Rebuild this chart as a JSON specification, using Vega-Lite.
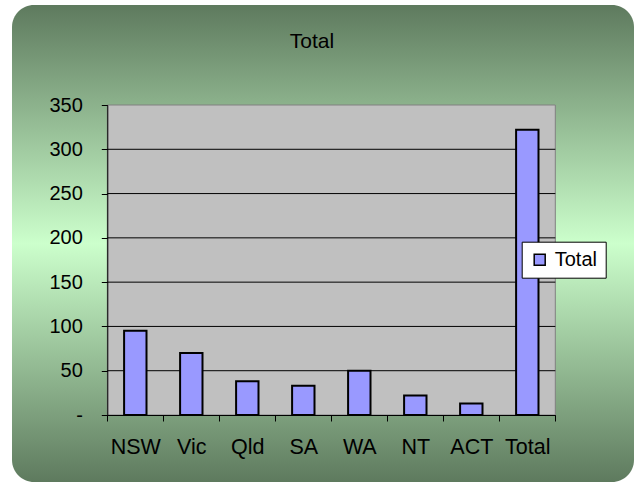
{
  "$schema": "https://vega.github.io/schema/vega-lite/v6.json",
  "width": 622,
  "height": 477,
  "autosize": {"type": "none"},
  "padding": {"left": 12, "top": 5, "right": 3, "bottom": 0},
  "background": "white",
  "view": {
    "fill": {"gradient": "linear", "x1": 0, "y1": 0, "x2": 0, "y2": 1,
      "stops": [
        {"offset": 0, "color": "#5e7a5e"},
        {"offset": 0.5, "color": "#ccffcc"},
        {"offset": 1, "color": "#5e7a5e"}
      ]},
    "stroke": null,
    "cornerRadius": 22
  },
  "title": {
    "text": "Total",
    "fontSize": 21,
    "font": "Liberation Sans",
    "fontWeight": "normal",
    "color": "black",
    "anchor": "middle",
    "frame": "group",
    "offset": -43,
    "baseline": "alphabetic",
    "dx": -11,
    "dy": 21
  },
  "config": {"font": "Liberation Sans"},
  "resolve": {"scale": {"x": "independent"}},
  "layer": [
    {
      "data": {"values": [{"plot": "area"}]},
      "mark": {"type": "rect", "fill": "#c0c0c0", "stroke": "#808080", "strokeWidth": 1},
      "encoding": {
        "x": {"datum": 0, "type": "quantitative", "scale": {"domain": [0, 8], "range": [95.3, 543.3]}, "axis": null},
        "x2": {"datum": 8},
        "y": {
          "datum": 0, "type": "quantitative",
          "scale": {"domain": [0, 350], "range": [410, 100], "nice": false, "zero": false},
          "axis": {
            "orient": "left", "offset": -95.3, "values": [0, 50, 100, 150, 200, 250, 300, 350],
            "labelExpr": "datum.value == 0 ? '-' : datum.label",
            "domain": true, "domainColor": "black", "domainWidth": 1,
            "ticks": true, "tickColor": "black", "tickSize": 6, "tickWidth": 1,
            "grid": false, "labelFontSize": 20, "labelColor": "black", "labelPadding": 19,
            "labelFont": "Liberation Sans", "title": null, "zindex": 1
          }
        },
        "y2": {"datum": 350}
      }
    },
    {
      "data": {"values": [{"g": 50}, {"g": 100}, {"g": 150}, {"g": 200}, {"g": 250}, {"g": 300}]},
      "mark": {"type": "rule", "color": "black", "strokeWidth": 1},
      "encoding": {
        "x": {"datum": 0, "type": "quantitative", "scale": {"domain": [0, 8], "range": [95.3, 543.3]}, "axis": null},
        "x2": {"datum": 8},
        "y": {"field": "g", "type": "quantitative"}
      }
    },
    {
      "data": {"values": [
        {"region": "NSW", "value": 95, "series": "Total"},
        {"region": "Vic", "value": 70, "series": "Total"},
        {"region": "Qld", "value": 38, "series": "Total"},
        {"region": "SA", "value": 33, "series": "Total"},
        {"region": "WA", "value": 50, "series": "Total"},
        {"region": "NT", "value": 22, "series": "Total"},
        {"region": "ACT", "value": 13, "series": "Total"},
        {"region": "Total", "value": 322, "series": "Total"}
      ]},
      "mark": {"type": "bar", "stroke": "black", "strokeWidth": 2, "width": {"band": 0.4}},
      "encoding": {
        "x": {
          "field": "region", "type": "nominal", "sort": null,
          "scale": {"range": [95.3, 543.3], "paddingInner": 0, "paddingOuter": 0},
          "axis": {
            "orient": "bottom", "offset": -67, "labelAngle": 0,
            "domain": true, "domainColor": "black", "domainWidth": 1,
            "ticks": true, "tickBand": "extent", "tickColor": "black", "tickSize": 6, "tickWidth": 1,
            "grid": false, "labelFontSize": 21.5, "labelColor": "black", "labelPadding": 15,
            "labelFont": "Liberation Sans", "title": null, "zindex": 1
          }
        },
        "y": {"field": "value", "type": "quantitative"},
        "color": {
          "field": "series", "type": "nominal",
          "scale": {"range": ["#9999ff"]},
          "legend": {
            "title": null, "orient": "none", "legendX": 509.7, "legendY": 236.7,
            "fillColor": "white", "strokeColor": "black", "padding": 8,
            "symbolType": "square", "symbolSize": 121, "symbolStrokeColor": "black",
            "symbolStrokeWidth": 1.5, "labelFontSize": 20, "labelColor": "black",
            "labelFont": "Liberation Sans", "labelOffset": 5, "zindex": 1
          }
        }
      }
    }
  ]
}
